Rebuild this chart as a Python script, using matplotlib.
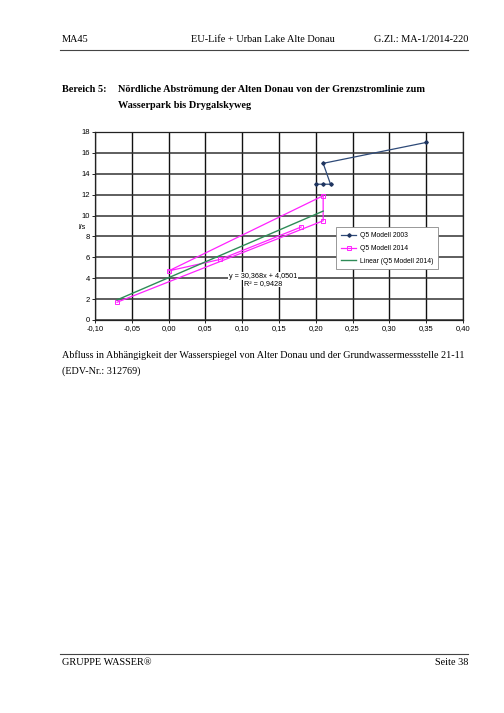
import matplotlib
matplotlib.use("Agg")
import matplotlib.pyplot as plt
import numpy as np

# Q5 Modell 2003
x_2003 = [0.20, 0.21, 0.22, 0.21, 0.35]
y_2003 = [13.0, 13.0, 13.0, 15.0, 17.0]

# Q5 Modell 2014
x_2014 = [-0.07, 0.21, 0.21, 0.00, 0.07, 0.18]
y_2014 = [1.7, 9.5, 11.9, 4.7, 5.8, 8.9]

# linear trend (from the chart label)
trend_slope = 30.368
trend_intercept = 4.0501
trend_r2 = 0.9428

x_ticks = [-0.10, -0.05, 0.00, 0.05, 0.10, 0.15, 0.20, 0.25, 0.30, 0.35, 0.40]
y_ticks = [0, 2, 4, 6, 8, 10, 12, 14, 16, 18]

serif = "Liberation Serif"
sans = "Liberation Sans"

fig = plt.figure(figsize=(5.04, 7.13), dpi=100)

# page header
fig.text(62 / 504, 1 - 42 / 713, "MA45", family=serif, fontsize=7.4)
fig.text(263 / 504, 1 - 42 / 713, "EU-Life + Urban Lake Alte Donau", family=serif,
         fontsize=7.4, ha="center")
fig.text(468 / 504, 1 - 42 / 713, "G.Zl.: MA-1/2014-220", family=serif,
         fontsize=7.4, ha="right")
fig.add_artist(plt.Line2D([60 / 504, 468 / 504], [1 - 50 / 713, 1 - 50 / 713],
                          color="#444444", lw=0.8))

# section title
fig.text(62 / 504, 1 - 92 / 713, "Bereich 5:", family=serif, fontsize=7.4,
         weight="bold")
fig.text(118 / 504, 1 - 92 / 713,
         "Nördliche Abströmung der Alten Donau von der Grenzstromlinie zum",
         family=serif, fontsize=7.4, weight="bold")
fig.text(118 / 504, 1 - 108 / 713, "Wasserpark bis Drygalskyweg", family=serif,
         fontsize=7.4, weight="bold")

# chart
ax = fig.add_axes([95 / 504, 1 - 320 / 713, 368 / 504, 188 / 713])
ax.set_xlim(-0.10, 0.40)
ax.set_ylim(0, 18)
ax.set_xticks(x_ticks)
ax.set_yticks(y_ticks)
ax.set_xticklabels([f"{v:.2f}".replace(".", ",") for v in x_ticks])
ax.set_yticklabels([str(v) for v in y_ticks])
ax.tick_params(labelsize=5.5, length=2, width=0.6, pad=1.5, color="black")
for lab in ax.get_xticklabels() + ax.get_yticklabels():
    lab.set_family(sans)
ax.xaxis.grid(True, color="#111111", lw=1.0)
ax.yaxis.grid(True, color="#333333", lw=1.1)
ax.set_axisbelow(True)
for s in ax.spines.values():
    s.set_color("#222222")
    s.set_linewidth(0.9)

ax.plot(x_2003, y_2003, color="#2e4a78", lw=0.9, marker="D", ms=1.8,
        mfc="#1f3560", mec="#1f3560", label="Q5 Modell 2003")
ax.plot(x_2014, y_2014, color="#ff22ff", lw=0.9, marker="s", ms=2.6,
        mfc="none", mec="#ff22ff", mew=0.7, label="Q5 Modell 2014")

xt = np.array([min(x_2014), max(x_2014)])
ax.plot(xt, trend_slope * xt + trend_intercept, color="#2e8b57", lw=1.0,
        label="Linear (Q5 Modell 2014)")

eq = f"y = {trend_slope:.3f}x + {trend_intercept:.4f}".replace(".", ",")
r2 = f"R² = {trend_r2:.4f}".replace(".", ",")
ax.text(0.128, 4.2, eq, family=sans, fontsize=5.2, ha="center", va="center",
        bbox=dict(facecolor="white", edgecolor="none", pad=0.5))
ax.text(0.128, 3.5, r2, family=sans, fontsize=5.2, ha="center", va="center",
        bbox=dict(facecolor="white", edgecolor="none", pad=0.3))

ax.text(-0.117, 8.9, "l/s", family=sans, fontsize=5.2, ha="center", va="center")

leg = ax.legend(loc="upper left", bbox_to_anchor=(0.647, 0.511),
                prop={"family": sans, "size": 4.9}, frameon=True, fancybox=False,
                edgecolor="#888888", framealpha=1, handlelength=2.2,
                borderpad=0.7, labelspacing=0.85, handletextpad=0.5)
leg.get_frame().set_linewidth(0.6)

# caption
fig.text(62 / 504, 1 - 358 / 713,
         "Abfluss in Abhängigkeit der Wasserspiegel von Alter Donau und der Grundwassermessstelle 21-11",
         family=serif, fontsize=7.3)
fig.text(62 / 504, 1 - 374 / 713, "(EDV-Nr.: 312769)", family=serif, fontsize=7.3)

# footer
fig.add_artist(plt.Line2D([60 / 504, 468 / 504], [1 - 654 / 713, 1 - 654 / 713],
                          color="#444444", lw=0.8))
fig.text(62 / 504, 1 - 665 / 713, "GRUPPE WASSER®", family=serif, fontsize=7.4)
fig.text(468 / 504, 1 - 665 / 713, "Seite 38", family=serif, fontsize=7.4,
         ha="right")

fig.savefig("out.png", dpi=100)
